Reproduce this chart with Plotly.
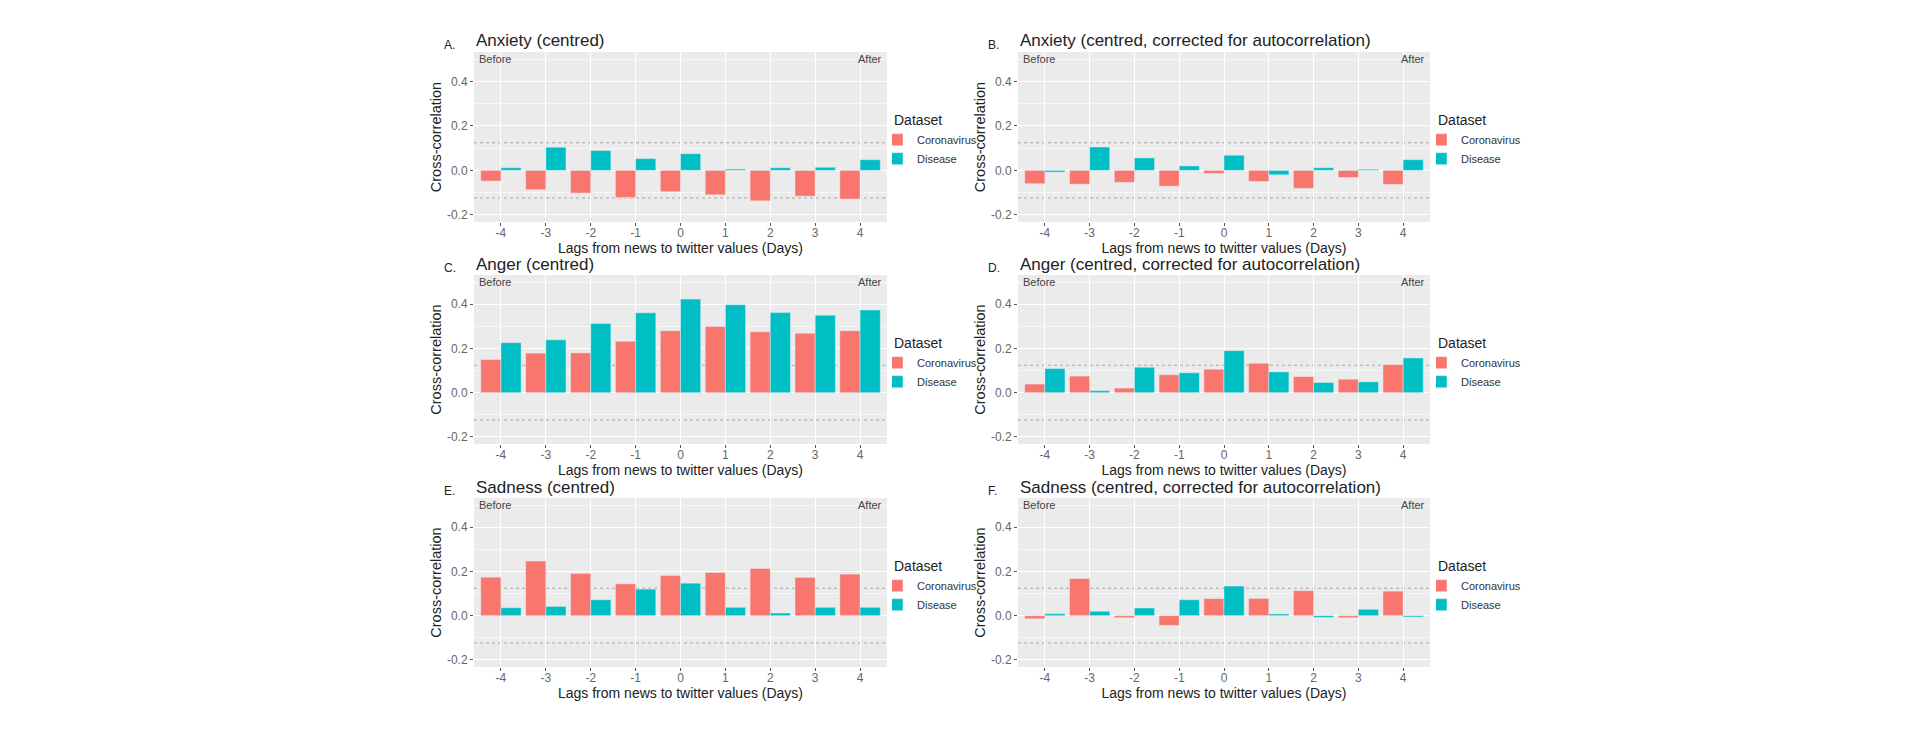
import plotly.graph_objects as go

# lags in days (news -> twitter)
lags = [-4, -3, -2, -1, 0, 1, 2, 3, 4]
lag_labels = ["-4", "-3", "-2", "-1", "0", "1", "2", "3", "4"]

# cross-correlation values
anxiety_corona = [-0.048, -0.087, -0.102, -0.122, -0.096, -0.110, -0.137, -0.116, -0.129]
anxiety_disease = [0.012, 0.104, 0.089, 0.053, 0.075, 0.006, 0.012, 0.014, 0.048]

anxiety_ac_corona = [-0.060, -0.062, -0.054, -0.071, -0.014, -0.050, -0.081, -0.032, -0.063]
anxiety_ac_disease = [-0.008, 0.105, 0.056, 0.020, 0.068, -0.020, 0.012, 0.005, 0.048]

anger_corona = [0.150, 0.179, 0.180, 0.232, 0.280, 0.299, 0.275, 0.269, 0.280]
anger_disease = [0.226, 0.239, 0.313, 0.361, 0.423, 0.398, 0.362, 0.350, 0.374]

anger_ac_corona = [0.039, 0.075, 0.021, 0.081, 0.106, 0.133, 0.073, 0.061, 0.127]
anger_ac_disease = [0.109, 0.009, 0.115, 0.090, 0.190, 0.094, 0.046, 0.049, 0.157]

sadness_corona = [0.174, 0.247, 0.191, 0.144, 0.182, 0.195, 0.213, 0.173, 0.188]
sadness_disease = [0.036, 0.042, 0.072, 0.120, 0.147, 0.038, 0.012, 0.038, 0.038]

sadness_ac_corona = [-0.014, 0.168, -0.009, -0.044, 0.077, 0.078, 0.113, -0.009, 0.111]
sadness_ac_disease = [0.009, 0.020, 0.035, 0.072, 0.134, 0.008, -0.008, 0.029, -0.006]

# significance bound (dotted lines)
sig_bound = 0.124

y_ticks = [-0.2, 0.0, 0.2, 0.4]
y_tick_labels = ["-0.2", "0.0", "0.2", "0.4"]

panels = [
    ("A.", "Anxiety (centred)", anxiety_corona, anxiety_disease),
    ("B.", "Anxiety (centred, corrected for autocorrelation)", anxiety_ac_corona, anxiety_ac_disease),
    ("C.", "Anger (centred)", anger_corona, anger_disease),
    ("D.", "Anger (centred, corrected for autocorrelation)", anger_ac_corona, anger_ac_disease),
    ("E.", "Sadness (centred)", sadness_corona, sadness_disease),
    ("F.", "Sadness (centred, corrected for autocorrelation)", sadness_ac_corona, sadness_ac_disease),
]

W, H = 1920, 740
RED = "#F8766D"
TEAL = "#00BFC4"
FONT = "Liberation Sans, Arial, sans-serif"

col_px = [(474, 887), (1018, 1430)]
row_px = [(52, 222), (275, 444), (498, 667)]
legend_px = [892, 1436]

fig = go.Figure()
layout = {}
annotations = []
shapes = []

for i, (letter, title, corona, disease) in enumerate(panels):
    n = i + 1
    sfx = "" if n == 1 else str(n)
    r, c = divmod(i, 2)
    x0, x1 = col_px[c]
    ytop, ybot = row_px[r]
    xa, ya = f"x{sfx}", f"y{sfx}"
    leg = f"legend{sfx}"

    fig.add_trace(go.Bar(x=lags, y=corona, name="Coronavirus", marker_color=RED,
                         xaxis=xa, yaxis=ya, legend=leg))
    fig.add_trace(go.Bar(x=lags, y=disease, name="Disease", marker_color=TEAL,
                         xaxis=xa, yaxis=ya, legend=leg))

    layout[f"xaxis{sfx}"] = dict(
        domain=[x0 / W, x1 / W], anchor=ya, range=[-4.6, 4.6],
        tickmode="array", tickvals=lags, ticktext=lag_labels,
        showgrid=True, gridcolor="white", gridwidth=1, zeroline=False,
        ticks="outside", ticklen=3, tickcolor="#555",
        tickfont=dict(size=12, color="#666"), ticklabelstandoff=-3,
        title=dict(text="Lags from news to twitter values (Days)",
                   font=dict(size=14, color="#222"), standoff=0),
    )
    layout[f"yaxis{sfx}"] = dict(
        domain=[1 - ybot / H, 1 - ytop / H], anchor=xa, range=[-0.232, 0.532],
        tickmode="array", tickvals=y_ticks, ticktext=y_tick_labels,
        showgrid=True, gridcolor="white", gridwidth=1, zeroline=False,
        minor=dict(tickmode="array", tickvals=[-0.1, 0.1, 0.3, 0.5],
                   showgrid=True, gridcolor="#f6f6f6", gridwidth=0.5),
        ticks="outside", ticklen=3, tickcolor="#555",
        tickfont=dict(size=12, color="#666"),
        title=dict(text="Cross-correlation", font=dict(size=14.5, color="#222"), standoff=1),
    )
    layout[leg] = dict(
        x=legend_px[c] / W, y=1 - (ytop + 55) / H, xanchor="left", yanchor="top",
        title=dict(text="Dataset", font=dict(size=14, color="#222")),
        font=dict(size=11, color="#333"), bgcolor="rgba(0,0,0,0)",
        tracegroupgap=0, indentation=-15,
    )

    annotations += [
        dict(text=title, xref="paper", yref="paper", x=x0 / W, y=1 - (ytop - 11) / H,
             xanchor="left", yanchor="middle", showarrow=False,
             font=dict(size=17, color="#222")),
        dict(text=letter, xref="paper", yref="paper", x=(x0 - 32) / W, y=1 - (ytop - 7) / H,
             xanchor="left", yanchor="middle", showarrow=False,
             font=dict(size=12, color="#222")),
        dict(text="Before", xref=f"{xa} domain", yref=ya, x=0.008, y=0.5,
             xanchor="left", yanchor="middle", showarrow=False,
             font=dict(size=11, color="#444")),
        dict(text="After", xref=f"{xa} domain", yref=ya, x=0.992, y=0.5,
             xanchor="right", yanchor="middle", showarrow=False,
             font=dict(size=11, color="#444")),
    ]
    for yv in (sig_bound, -sig_bound):
        shapes.append(dict(type="line", xref=f"{xa} domain", yref=ya, x0=0, x1=1,
                           y0=yv, y1=yv, line=dict(color="#a8a8a8", width=1, dash="dot"),
                           layer="below"))

fig.update_layout(
    **layout,
    width=W, height=H,
    margin=dict(l=0, r=0, t=0, b=0),
    paper_bgcolor="white", plot_bgcolor="#EBEBEB",
    barmode="group", bargap=0.1, bargroupgap=0,
    font=dict(family=FONT, color="#222"),
    annotations=annotations, shapes=shapes,
)

fig.write_html("out.html", config={"displayModeBar": False},
               post_script="document.body.style.margin='0';")
